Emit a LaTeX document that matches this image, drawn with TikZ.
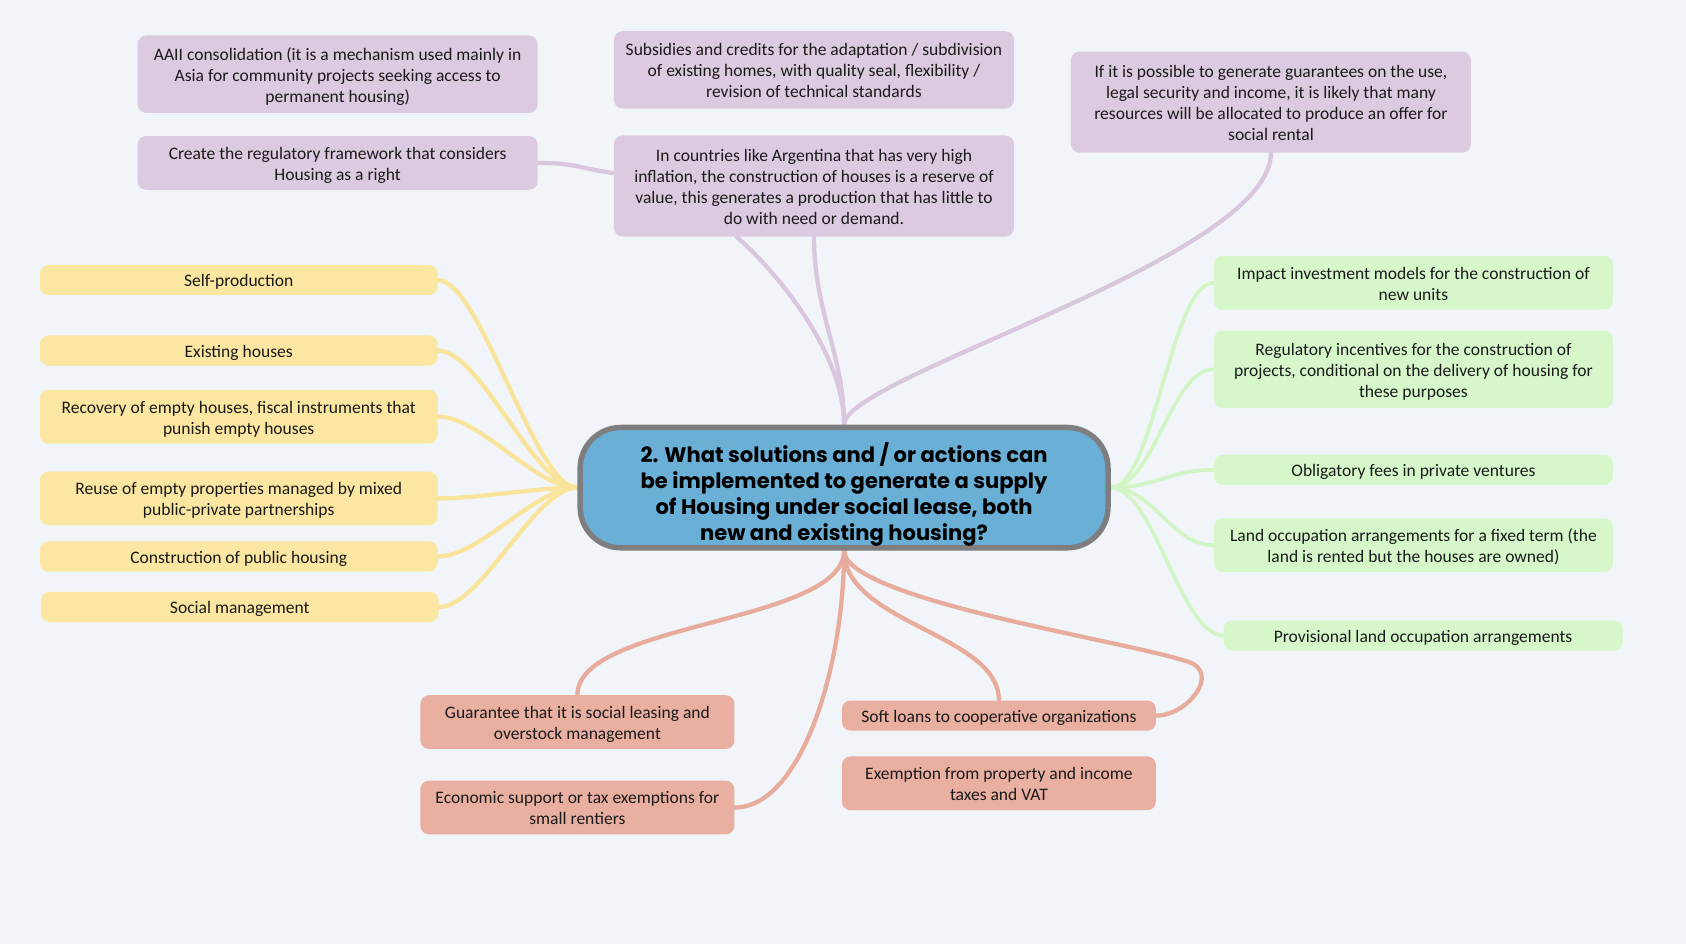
\documentclass[tikz,border=0pt]{standalone}
\usepackage{fontspec}
\setmainfont{Carlito}
\newfontfamily\popfont{Poppins}
\usetikzlibrary{calc}
\pgfdeclarelayer{bg}
\pgfsetlayers{bg,main}
\definecolor{bgc}{HTML}{F1F5F9}
\definecolor{pfill}{HTML}{DCCAE0}
\definecolor{pline}{HTML}{DAC7DF}
\definecolor{yfill}{HTML}{FBE6A2}
\definecolor{yline}{HTML}{FAE49C}
\definecolor{gfill}{HTML}{D5F7CA}
\definecolor{gline}{HTML}{D2F5C6}
\definecolor{rfill}{HTML}{E9AFA1}
\definecolor{rline}{HTML}{E8AC9D}
\definecolor{mfill}{HTML}{6AAFD5}
\definecolor{mborder}{HTML}{7E7E7E}
\definecolor{txt}{HTML}{1A1A1A}
\newcommand{\bt}[1]{\raisebox{-2.5pt}[\height][\depth]{\begin{tabular}{@{}c@{}}#1\end{tabular}}}
\tikzset{
  box/.style={rounded corners=8pt, inner sep=0pt, text=txt,
    font=\fontsize{16.3}{19.5}\selectfont, minimum width=372pt},
  rbox/.style={box, fill=rfill, minimum width=292pt},
  pbox/.style={box, fill=pfill},
  ybox/.style={box, fill=yfill, minimum width=370pt},
  gbox/.style={box, fill=gfill, minimum width=371pt},
  one/.style={minimum height=28pt},
  two/.style={minimum height=50pt},
  three/.style={minimum height=72pt},
  four/.style={minimum height=94pt},
  conn/.style={line width=4pt, line cap=round},
  pl/.style={conn, draw=pline},
  yl/.style={conn, draw=yline},
  gl/.style={conn, draw=gline, line width=3.5pt},
  rl/.style={conn, draw=rline},
}
\begin{document}
\begin{tikzpicture}[x=1pt,y=-1pt]
\useasboundingbox (0,0) rectangle (1568,878);
% central node
\node[draw=mborder, line width=5pt, fill=mfill, rounded corners=38pt,
  minimum width=491pt, minimum height=112pt, inner sep=0pt, text=black,
  font=\popfont\bfseries\fontsize{19.6}{24}\selectfont] (main) at (785,453.5)
  {\raisebox{-7pt}[\height][\depth]{\begin{tabular}{@{}c@{}}2. What solutions and / or actions can\\be implemented to generate a supply\\of Housing under social lease, both\\new and existing housing?\end{tabular}}};
% purple
\node[pbox, three] (aaii) at (314,69) {\bt{AAII consolidation (it is a mechanism used mainly in\\Asia for community projects seeking access to\\permanent housing)}};
\node[pbox, two] (create) at (314,151.5) {\bt{Create the regulatory framework that considers\\Housing as a right}};
\node[pbox, three] (subs) at (757,65) {\bt{Subsidies and credits for the adaptation / subdivision\\of existing homes, with quality seal, flexibility /\\revision of technical standards}};
\node[pbox, four] (infl) at (757,173) {\bt{In countries like Argentina that has very high\\inflation, the construction of houses is a reserve of\\value, this generates a production that has little to\\do with need or demand.}};
\node[pbox, four] (ifp) at (1182,95) {\bt{If it is possible to generate guarantees on the use,\\legal security and income, it is likely that many\\resources will be allocated to produce an offer for\\social rental}};
% yellow
\node[ybox, one] (self) at (222,260.5) {\bt{Self-production}};
\node[ybox, one] (exist) at (222,326) {\bt{Existing houses}};
\node[ybox, two] (recov) at (222,387.5) {\bt{Recovery of empty houses, fiscal instruments that\\punish empty houses}};
\node[ybox, two] (reuse) at (222,463.5) {\bt{Reuse of empty properties managed by mixed\\public-private partnerships}};
\node[ybox, one] (constr) at (222,517.5) {\bt{Construction of public housing}};
\node[ybox, one] (social) at (223,564.5) {\bt{Social management}};
% green
\node[gbox, two] (impact) at (1314.5,263) {\bt{Impact investment models for the construction of\\new units}};
\node[gbox, three] (reg) at (1314.5,343.5) {\bt{Regulatory incentives for the construction of\\projects, conditional on the delivery of housing for\\these purposes}};
\node[gbox, one] (oblig) at (1314.5,437) {\bt{Obligatory fees in private ventures}};
\node[gbox, two] (land) at (1314.5,507) {\bt{Land occupation arrangements for a fixed term (the\\land is rented but the houses are owned)}};
\node[gbox, one] (prov) at (1323.5,591) {\bt{Provisional land occupation arrangements}};
% red
\node[rbox, two] (guar) at (537,671.5) {\bt{Guarantee that it is social leasing and\\overstock management}};
\node[rbox, two] (econ) at (537,751) {\bt{Economic support or tax exemptions for\\small rentiers}};
\node[rbox, one] (soft) at (929,665.5) {\bt{Soft loans to cooperative organizations}};
\node[rbox, two] (exem) at (929,728.5) {\bt{Exemption from property and income\\taxes and VAT}};
\coordinate (hid) at ($(infl.south)+(-72,0)$);
\coordinate (crend) at ($(infl.west)+(0,-12)$);
\coordinate (loop) at ($(soft.east)+(30,-50)$);
\begin{pgfonlayer}{bg}
\fill[bgc] (0,0) rectangle (1568,878);
% purple connectors
\draw[pl] (main.north) .. controls +(0,-65) and +(0,70) .. (infl.south);
\draw[pl] (main.north) .. controls +(0,-65) and +(40,35) .. (hid);
\draw[pl] (ifp.south) .. controls +(0,98) and +(0,-45) .. (main.north);
\draw[pl] (create.east) .. controls +(35,0) and +(-35,-5) .. (crend);
% yellow connectors
\foreach \n in {self,exist,recov,reuse,constr,social}
  \draw[yl] (\n.east) .. controls +(40,0) and +(-40,0) .. (main.west);
% green connectors
\foreach \n in {impact,reg,oblig,land,prov}
  \draw[gl] (\n.west) .. controls +(-40,0) and +(40,0) .. (main.east);
% red connectors
\draw[rl] (main.south) .. controls +(0,68) and +(0,-68) .. (guar.north);
\draw[rl] (main.south) .. controls +(0,108) and +(62,0) .. (econ.east);
\draw[rl] (main.south) .. controls +(0,68) and +(0,-62) .. (soft.north);
\draw[rl] (main.south) .. controls +(0,45) and +(-60,-20) .. (loop)
  .. controls +(30,10) and +(30,0) .. (soft.east);
\end{pgfonlayer}
\end{tikzpicture}
\end{document}
